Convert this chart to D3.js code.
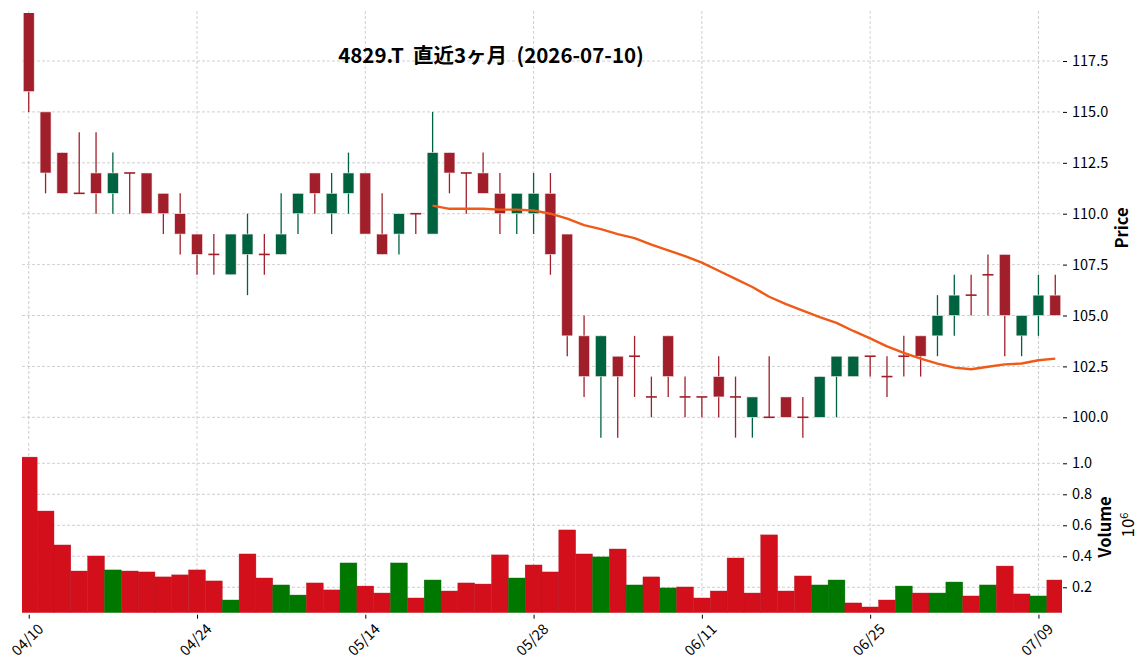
<!DOCTYPE html>
<html>
<head>
<meta charset="utf-8">
<script src="https://cdn.jsdelivr.net/npm/d3@7"></script>
<style>
  body { margin: 0; background: #fff; }
  text { font-family: "Noto Sans CJK JP", "Noto Sans", sans-serif; fill: #000; }
</style>
</head>
<body>
<div id="chart"></div>
<script>
// trading days shown on the chart (MM/DD)
var dates = ["04/10","04/13","04/14","04/15","04/16","04/17","04/20","04/21","04/22","04/23",
  "04/24","04/27","04/28","04/30","05/01","05/07","05/08","05/11","05/12","05/13",
  "05/14","05/15","05/18","05/19","05/20","05/21","05/22","05/25","05/26","05/27",
  "05/28","05/29","06/01","06/02","06/03","06/04","06/05","06/08","06/09","06/10",
  "06/11","06/12","06/15","06/16","06/17","06/18","06/19","06/22","06/23","06/24",
  "06/25","06/26","06/29","06/30","07/01","07/02","07/03","07/06","07/07","07/08",
  "07/09","07/10"];

var opens  = [120,115,113,111,112,111,112,112,111,110,109,108,107,108,108,108,110,112,110,111,
  112,109,109,110,109,113,112,112,111,110,110,111,109,104,102,103,103,101,104,101,
  101,102,101,100,100,101,100,100,102,102,103,102,103,104,104,105,106,107,108,104,105,106];
var highs  = [120,115,113,114,114,113,112,112,111,111,109,109,109,110,109,111,111,112,112,113,
  112,111,110,110,115,113,112,113,112,111,112,112,109,105,104,103,104,102,104,102,
  101,103,102,101,103,101,101,102,103,103,103,103,104,104,106,107,107,108,108,105,107,107];
var lows   = [115,111,111,111,110,110,110,110,109,108,107,107,107,106,107,108,109,110,109,110,
  109,108,108,109,109,111,110,111,109,109,109,107,103,101,99,99,101,100,101,100,
  100,100,99,99,100,100,99,100,100,102,102,101,102,102,103,104,105,105,103,103,104,105];
var closes = [116,112,111,111,111,112,112,110,110,109,108,108,109,109,108,109,111,111,111,112,
  109,108,110,110,113,112,112,111,110,111,111,108,104,102,104,102,103,101,102,101,
  101,101,101,101,100,100,100,102,103,103,103,102,103,103,105,106,106,107,105,105,106,105];
var volumes = [1040000,692000,473000,305000,402000,312000,305000,299000,267000,280000,
  312000,241000,118000,415000,260000,215000,150000,228000,183000,357000,
  208000,163000,357000,131000,247000,176000,228000,221000,409000,260000,
  344000,299000,570000,415000,396000,447000,215000,267000,196000,202000,
  131000,176000,389000,163000,538000,176000,273000,215000,247000,99000,
  73000,118000,208000,163000,163000,234000,144000,215000,337000,157000,
  144000,247000];

var xTickIdx = [0,10,20,30,40,50,60];
var priceTicks = [100,102.5,105,107.5,110,112.5,115,117.5];
var volTicks = [0.2,0.4,0.6,0.8,1.0];
var maPeriod = 25;
var title = "4829.T  直近3ヶ月  (2026-07-10)";

var width = 1148, height = 670;
var upColor = "#006340", downColor = "#a01f2a";
var volUp = "#007800", volDown = "#d30f1b";
var gridColor = "#c4c4c4";

var left = 22, right = 1062;
var pTop = 11, pBottom = 440;
var vTop = 443, vBottom = 612.7;

var svg = d3.select("#chart").append("svg")
  .attr("width", width).attr("height", height)
  .style("background", "#fff");

var x = d3.scaleLinear().domain([-0.4, dates.length - 0.6]).range([left, right]);
var step = x(1) - x(0);
var yP = d3.scaleLinear().domain([100, 117.5]).range([417.3, 61]);
var yV = d3.scaleLinear().domain([0, 1]).range([618.3, 463.3]);

var defs = svg.append("defs");
defs.append("clipPath").attr("id", "clipP").append("rect")
  .attr("x", left).attr("y", pTop + 2).attr("width", right - left).attr("height", pBottom - pTop - 2);
defs.append("clipPath").attr("id", "clipV").append("rect")
  .attr("x", left).attr("y", vTop).attr("width", right - left).attr("height", vBottom - vTop);

/*---------------- grid ----------------*/
var grid = svg.append("g").attr("class", "grid")
  .attr("stroke", gridColor).attr("stroke-width", 0.8).attr("stroke-dasharray", "3,2");

grid.selectAll(".hp").data(priceTicks).enter().append("line")
  .attr("x1", left).attr("x2", right)
  .attr("y1", function(d) { return yP(d); }).attr("y2", function(d) { return yP(d); });
grid.selectAll(".hv").data(volTicks).enter().append("line")
  .attr("x1", left).attr("x2", right)
  .attr("y1", function(d) { return yV(d); }).attr("y2", function(d) { return yV(d); });
grid.selectAll(".vp").data(xTickIdx).enter().append("line")
  .attr("x1", function(d) { return x(d); }).attr("x2", function(d) { return x(d); })
  .attr("y1", pTop).attr("y2", pBottom);
grid.selectAll(".vv").data(xTickIdx).enter().append("line")
  .attr("x1", function(d) { return x(d); }).attr("x2", function(d) { return x(d); })
  .attr("y1", vTop).attr("y2", vBottom);

/*---------------- candles ----------------*/
var bars = d3.range(dates.length).map(function(i) {
  return {i: i, o: opens[i], h: highs[i], l: lows[i], c: closes[i], v: volumes[i],
    up: closes[i] > opens[i],
    vup: i > 0 && closes[i] > closes[i - 1]};
});

var bodyW = step * 0.65;
var candles = svg.append("g").attr("clip-path", "url(#clipP)")
  .selectAll(".candle").data(bars).enter().append("g");

candles.append("line")
  .attr("x1", function(d) { return x(d.i); }).attr("x2", function(d) { return x(d.i); })
  .attr("y1", function(d) { return yP(d.h); }).attr("y2", function(d) { return yP(d.l); })
  .attr("stroke", function(d) { return d.up ? upColor : downColor; })
  .attr("stroke-width", 1.3);

candles.append("rect")
  .attr("x", function(d) { return x(d.i) - bodyW / 2; })
  .attr("width", bodyW)
  .attr("y", function(d) { return yP(Math.max(d.o, d.c)); })
  .attr("height", function(d) { return Math.max(1.4, Math.abs(yP(d.o) - yP(d.c))); })
  .attr("fill", function(d) { return d.up ? upColor : downColor; })
  .attr("stroke", "#f4e8ea").attr("stroke-width", 0.6);

// doji bar: just a horizontal tick
candles.filter(function(d) { return d.o === d.c; }).select("rect")
  .attr("y", function(d) { return yP(d.o) - 0.8; })
  .attr("height", 1.6).attr("stroke", "none");

/*---------------- moving average ----------------*/
var ma = [];
closes.forEach(function(c, i) {
  if (i >= maPeriod - 1) {
    ma.push({i: i, v: d3.mean(closes.slice(i - maPeriod + 1, i + 1))});
  }
});
svg.append("path").datum(ma)
  .attr("clip-path", "url(#clipP)")
  .attr("fill", "none").attr("stroke", "#ef5b16").attr("stroke-width", 2.4)
  .attr("stroke-linejoin", "round")
  .attr("d", d3.line().x(function(d) { return x(d.i); }).y(function(d) { return yP(d.v); }));

/*---------------- volume ----------------*/
svg.append("g").attr("clip-path", "url(#clipV)")
  .selectAll(".vol").data(bars).enter().append("rect")
  .attr("x", function(d) { return x(d.i) - step / 2; })
  .attr("width", step)
  .attr("y", function(d) { return yV(d.v / 1e6); })
  .attr("height", function(d) { return yV(0) - yV(d.v / 1e6); })
  .attr("fill", function(d) { return d.vup ? volUp : volDown; })
  .attr("stroke", function(d) { return d.vup ? "#0a6a0a" : "#b81420"; })
  .attr("stroke-width", 0.4);

/*---------------- axes ----------------*/
var fs = "14.5px";
var axP = svg.append("g").attr("transform", "translate(" + (right + 1) + ",0)")
  .call(d3.axisRight(yP).tickValues(priceTicks).tickFormat(d3.format(".1f")).tickSize(4).tickPadding(5));
var axV = svg.append("g").attr("transform", "translate(" + (right + 1) + ",0)")
  .call(d3.axisRight(yV).tickValues(volTicks).tickFormat(d3.format(".1f")).tickSize(4).tickPadding(5));
[axP, axV].forEach(function(a) {
  a.select(".domain").remove();
  a.selectAll("text").style("font-size", fs).attr("fill", "#000");
  a.selectAll("line").attr("stroke", "#000").attr("stroke-width", 1);
});

var axX = svg.append("g").attr("transform", "translate(0," + (vBottom + 2) + ")")
  .call(d3.axisBottom(x).tickValues(xTickIdx)
    .tickFormat(function(d) { return dates[d]; }).tickSize(4).tickPadding(4));
axX.select(".domain").remove();
axX.selectAll("line").attr("stroke", "#000");
axX.selectAll("text")
  .style("font-size", fs).attr("fill", "#000")
  .attr("text-anchor", "end")
  .attr("dy", "0.35em")
  .attr("transform", "translate(6,6) rotate(-45)");

/*---------------- labels ----------------*/
svg.append("text")
  .attr("transform", "translate(1122,228) rotate(-90)")
  .attr("text-anchor", "middle").attr("dy", "0.35em")
  .style("font-size", "16.5px").style("font-weight", "bold")
  .text("Price");

svg.append("text")
  .attr("transform", "translate(1105,527) rotate(-90)")
  .attr("text-anchor", "middle").attr("dy", "0.35em")
  .style("font-size", "16.5px").style("font-weight", "bold")
  .text("Volume");

var off = svg.append("text")
  .attr("transform", "translate(1128,525) rotate(-90)")
  .attr("text-anchor", "middle").attr("dy", "0.35em")
  .style("font-size", "17px");
off.append("tspan").text("10");
off.append("tspan").attr("dy", "-0.55em").style("font-size", "11px").text("6");

svg.append("text")
  .attr("x", 491).attr("y", 63)
  .attr("text-anchor", "middle")
  .style("font-size", "20.5px").style("font-weight", "bold")
  .style("white-space", "pre")
  .text(title);
</script>
</body>
</html>
